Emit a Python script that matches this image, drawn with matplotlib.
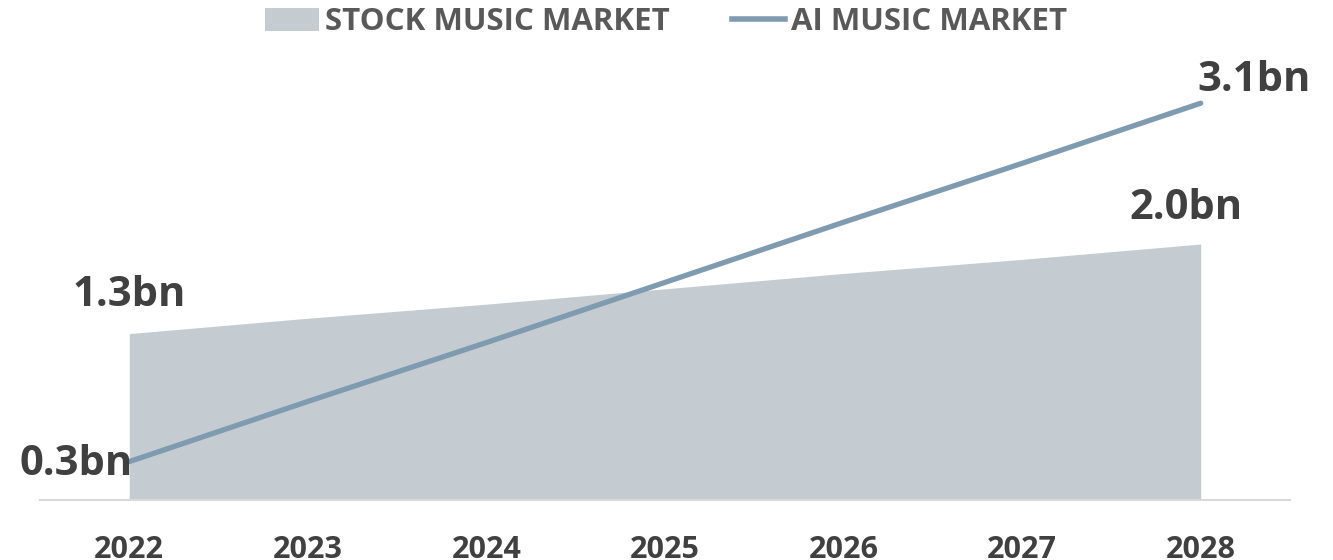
import numpy as np
import matplotlib.pyplot as plt
from matplotlib.patches import Patch
from matplotlib.lines import Line2D

years = [2022, 2023, 2024, 2025, 2026, 2027, 2028]
stock_music = [1.3, 1.42, 1.53, 1.65, 1.77, 1.88, 2.0]
ai_music = [0.3, 0.77, 1.23, 1.7, 2.17, 2.63, 3.1]

plt.rcParams['font.family'] = ['Open Sans', 'DejaVu Sans']

fig = plt.figure(figsize=(13.33, 5.6), dpi=100)
ax = fig.add_axes([40 / 1333, 60 / 560, 1250 / 1333, 448 / 560])

area_col = '#C4CBD1'
line_col = '#7F9BAF'
txt_col = '#404040'

ax.fill_between(years, 0, stock_music, color=area_col, linewidth=0)
ax.plot(years, ai_music, color=line_col, linewidth=3.8, solid_capstyle='round')

ax.set_xlim(2021.5, 2028.5)
ax.set_ylim(0, 3.5)

for s in ['top', 'right', 'left']:
    ax.spines[s].set_visible(False)
ax.spines['bottom'].set_color('#D9D9D9')
ax.spines['bottom'].set_linewidth(1.5)
ax.set_yticks([])
ax.set_xticks(years)
ax.set_xticklabels([str(y) for y in years], fontsize=22, fontweight='bold', color=txt_col)
ax.tick_params(axis='x', length=0, pad=25)

# value labels
ax.text(years[0], stock_music[0] + 0.3, '1.3bn', ha='center', va='center',
        fontsize=30, fontweight='bold', color=txt_col)
ax.text(years[0] - 0.3, ai_music[0] - 0.02, '0.3bn', ha='center', va='center',
        fontsize=30, fontweight='bold', color=txt_col)
ax.text(years[-1] - 0.08, stock_music[-1] + 0.28, '2.0bn', ha='center', va='center',
        fontsize=30, fontweight='bold', color=txt_col)
ax.text(years[-1] + 0.3, ai_music[-1] + 0.18, '3.1bn', ha='center', va='center',
        fontsize=30, fontweight='bold', color=txt_col)

handles = [Patch(facecolor=area_col, edgecolor='none', label='STOCK MUSIC MARKET'),
           Line2D([0], [0], color=line_col, linewidth=4, label='AI MUSIC MARKET')]
leg = fig.legend(handles=handles, loc='center', bbox_to_anchor=(0.5, 1 - 22 / 560),
                 ncol=2, frameon=False, fontsize=22.5, handlelength=1.7,
                 handleheight=0.75, handletextpad=0.2, columnspacing=2.0)
for t in leg.get_texts():
    t.set_fontweight('bold')
    t.set_color('#595959')

fig.savefig('out.png', dpi=100)
